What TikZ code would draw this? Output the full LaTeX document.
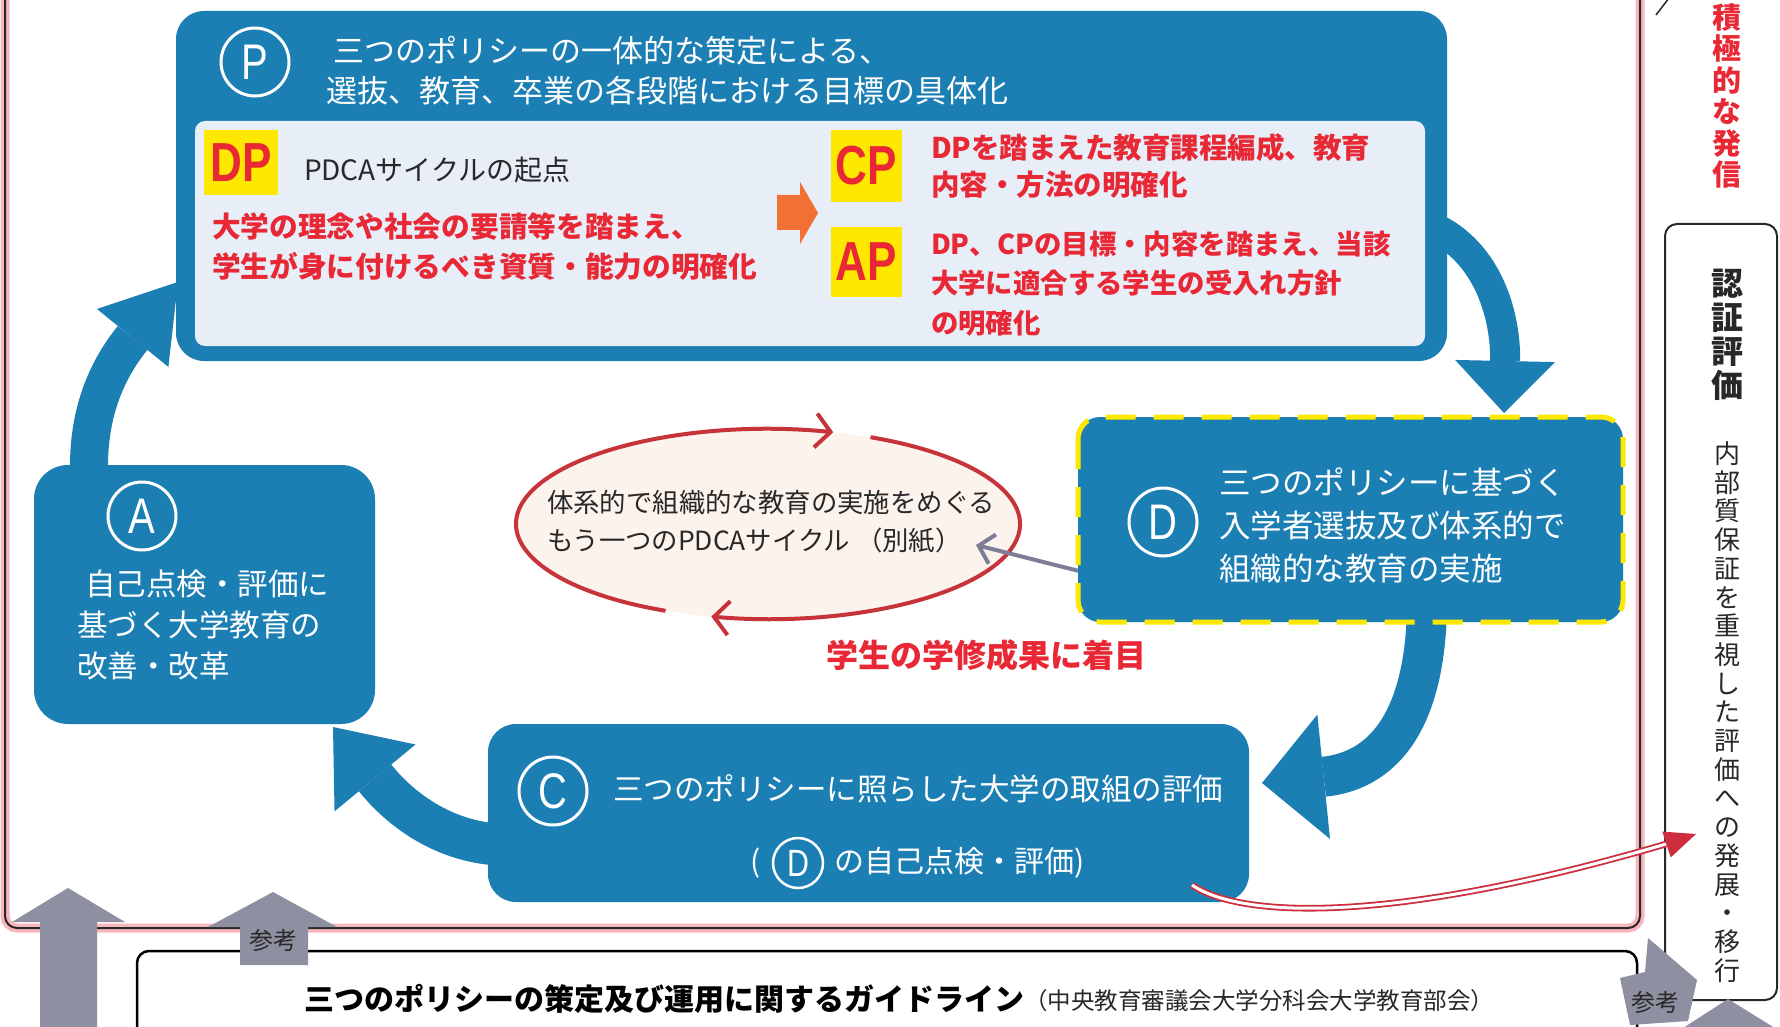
\documentclass[tikz,border=0pt]{standalone}
\usepackage{fontspec}
\setmainfont{Noto Sans CJK JP}
\newfontfamily\narrowf[FakeStretch=0.8]{Liberation Sans}
\usetikzlibrary{arrows.meta,shapes.geometric,calc}
\definecolor{blueC}{RGB}{28,127,180}
\definecolor{lightC}{RGB}{231,238,248}
\definecolor{yellowC}{RGB}{255,232,0}
\definecolor{redT}{RGB}{232,40,52}
\definecolor{orangeC}{RGB}{243,112,52}
\definecolor{grayA}{RGB}{142,143,160}
\definecolor{pinkG}{RGB}{246,182,188}
\definecolor{ellF}{RGB}{252,243,237}
\definecolor{ellR}{RGB}{198,52,58}
\definecolor{textD}{RGB}{40,40,40}
\definecolor{redD}{RGB}{205,45,60}
\definecolor{grayL}{RGB}{125,126,150}
\newcommand\myfs[1]{\fontsize{#1}{#1}\selectfont}
\newcommand\myfsb[2]{\fontsize{#1}{#2}\selectfont}
\begin{document}
\begin{tikzpicture}[x=1pt,y=-1pt,
  txt/.style={inner sep=0pt,outer sep=0pt},
  bluebox/.style={fill=blueC,inner sep=0pt,outer sep=0pt},
  letcirc/.style={circle,draw=white,line width=3pt,inner sep=0pt,minimum size=68pt,text=white,font=\narrowf\myfs{50}},
  flow/.style={draw=blueC},
  ybox/.style={fill=yellowC,inner sep=0pt,outer sep=0pt,text=redT,font=\narrowf\bfseries\myfs{55}},
  garrow/.style={fill=grayA}]
\useasboundingbox (0,0) rectangle (1780,1027);
\fill[white] (0,0) rectangle (1780,1027);

% outer pink frame
\draw[draw=pinkG, line width=9pt, rounded corners=12pt] (5,-40) -- (5,928) -- (1640,928) -- (1640,-40);
\draw[draw=textD, line width=2pt, rounded corners=12pt] (5,-40) -- (5,928) -- (1640,928) -- (1640,-40);

% guideline box
\node[draw=black, line width=2.5pt, rounded corners=12pt, minimum width=1500pt, minimum height=200pt, inner sep=0pt, outer sep=0pt] (G) at (887,1051) {};
\node[txt, anchor=west, text=black, font=\bfseries\myfs{30}] (Gt) at (304,999) {三つのポリシーの策定及び運用に関するガイドライン};
\node[txt, anchor=west, text=textD, font=\myfs{23.5}] (Gs) at (1024,1001) {（中央教育審議会大学分科会大学教育部会）};

% certification box
\node[draw=textD, line width=2pt, rounded corners=12pt, minimum width=112pt, minimum height=776pt, inner sep=0pt, outer sep=0pt] (N) at (1721,612) {};
\node[txt, align=center, text=redT, font=\bfseries\myfsb{29}{31.5}] (sek) at (1727,96) {積\\極\\的\\な\\発\\信};
\node[txt, align=center, text=textD, font=\bfseries\myfsb{32}{34}] (nin) at (1727,335) {認\\証\\評\\価};
\node[txt, align=center, text=textD, font=\myfsb{26}{28.7}] (nai) at (1727,712) {内\\部\\質\\保\\証\\を\\重\\視\\し\\た\\評\\価\\へ\\の\\発\\展\\・\\移\\行};
\draw[textD, line width=1.5pt] (1669,-2) -- (1656,15);

% big blue cycle arrows (drawn below boxes)
\draw[flow, line width=38pt, -{Triangle[length=72pt,width=92pt,line width=0pt]}] (90,490) .. controls (84,420) and (105,372) .. (178,282);
\draw[flow, line width=30pt, -{Triangle[length=52pt,width=100pt,line width=0pt]}] (1420,222) .. controls (1490,245) and (1506,320) .. (1504,413);
\draw[flow, line width=40pt, -{Triangle[length=62pt,width=125pt,line width=0pt]}] (1427,600) .. controls (1427,710) and (1390,770) .. (1262,783);
\draw[flow, line width=42pt, -{Triangle[length=66pt,width=105pt,line width=0pt]}] (510,845) .. controls (430,845) and (385,790) .. (333,727);

% P box
\node[bluebox, rounded corners=28pt, minimum width=1271pt, minimum height=350pt] (P) at (811.5,186) {};
\node[fill=lightC, rounded corners=10pt, minimum width=1230pt, minimum height=225pt, inner sep=0pt, outer sep=0pt] (Pin) at (810,233.5) {};
\node[letcirc] (Pc) at (255,62) {P};
\node[txt, anchor=west, align=left, text=white, font=\myfsb{31}{40}] (Pt) at (326,71) {\hspace{7pt}三つのポリシーの一体的な策定による、\\選抜、教育、卒業の各段階における目標の具体化};

\node[ybox, minimum width=74pt, minimum height=65pt] (DP) at (241,162.5) {DP};
\node[txt, anchor=west, text=textD, font=\myfs{28}] (pdca) at (304,170) {PDCAサイクルの起点};
\node[txt, anchor=west, align=left, text=redT, font=\bfseries\myfsb{28.7}{40}] (DPt) at (212,247) {大学の理念や社会の要請等を踏まえ、\\学生が身に付けるべき資質・能力の明確化};
\fill[orangeC] (777,195) -- (800,195) -- (800,182) -- (818,213) -- (800,244) -- (800,230) -- (777,230) -- cycle;
\node[ybox, minimum width=71pt, minimum height=72pt] (CP) at (866.5,166) {CP};
\node[ybox, minimum width=71pt, minimum height=70pt] (AP) at (866.5,262) {AP};
\node[txt, anchor=west, align=left, text=redT, font=\bfseries\myfsb{28.5}{37}] (CPt) at (931,166.5) {DPを踏まえた教育課程編成、教育\\内容・方法の明確化};
\node[txt, anchor=west, align=left, text=redT, font=\bfseries\myfsb{27.4}{39.5}] (APt) at (931,283.5) {DP、CPの目標・内容を踏まえ、当該\\大学に適合する学生の受入れ方針\\の明確化};

% A box
\node[bluebox, rounded corners=34pt, minimum width=341pt, minimum height=259pt] (A) at (204.5,594.5) {};
\node[letcirc] (Ac) at (142,516) {A};
\node[txt, anchor=west, align=left, text=white, font=\myfsb{30.5}{41}] (At) at (77,625) {\hspace{8pt}自己点検・評価に\\基づく大学教育の\\改善・改革};

% D box
\node[bluebox, rounded corners=22pt, minimum width=545pt, minimum height=205pt] (D) at (1350.5,519.5) {};
\draw[yellowC, line width=5pt, dash pattern=on 30pt off 18pt, rounded corners=22pt] (D.north west) rectangle (D.south east);
\node[letcirc] (Dc) at (1163,522) {D};
\node[txt, anchor=west, align=left, text=white, font=\myfsb{31.5}{43}] (Dt) at (1219,525) {三つのポリシーに基づく\\入学者選抜及び体系的で\\組織的な教育の実施};

% C box
\node[bluebox, rounded corners=28pt, minimum width=761pt, minimum height=178pt] (C) at (868.5,813) {};
\node[letcirc] (Cc) at (553,791) {C};
\node[txt, anchor=west, text=white, font=\myfs{30.5}] (Ct) at (613,789) {三つのポリシーに照らした大学の取組の評価};
\node[txt, anchor=west, text=white, font=\myfs{30}] (Cpl) at (750,863) {(};
\node[letcirc, minimum size=50pt, line width=2.5pt, font=\narrowf\myfs{38}] (Cd) at (798,863) {D};
\node[txt, anchor=west, text=white, font=\myfs{30}] (Cs) at (834,863) {の自己点検・評価)};

% ellipse: the other PDCA cycle
\node[ellipse, fill=ellF, minimum width=504pt, minimum height=190pt, inner sep=0pt, outer sep=0pt] (E) at (768,524) {};
\draw[ellR, line width=4pt, -{Straight Barb[length=15pt,width=34pt]}] (E.center) ++(114:252 and 95) arc[start angle=114, end angle=285, x radius=252, y radius=95];
\draw[ellR, line width=4pt, -{Straight Barb[length=15pt,width=34pt]}] (E.center) ++(294:252 and 95) arc[start angle=294, end angle=463, x radius=252, y radius=95];
\node[txt, anchor=west, align=left, text=textD, font=\myfsb{26.4}{38}] (Et) at (547,522) {体系的で組織的な教育の実施をめぐる\\もう一つのPDCAサイクル （別紙）};
\coordinate (Etip) at (976,545);
\draw[grayL, line width=4pt, -{Straight Barb[length=14pt,width=30pt]}] ($(D.south west)!0.25!(D.north west)$) -- (Etip);

\node[txt, anchor=west, text=redT, font=\bfseries\myfs{32}] (gak) at (826,655) {学生の学修成果に着目};

% red double arrow toward certification
\coordinate (Rs) at (1192,885);
\coordinate (Rh) at (1666,844);
\coordinate (Rt) at (1696,834);
\draw[draw=redD, double=white, double distance=3pt, line width=1.8pt] (Rs) .. controls (1240,918) and (1390,925) .. (Rh);
\fill[redD] (Rt) -- (1670.7,857.4) -- (1662.3,831.6) -- cycle;

% gray reference arrows
\fill[garrow] (68,888) -- (125,922) -- (97,922) -- (97,1030) -- (40,1030) -- (40,922) -- (12,922) -- cycle;
\fill[garrow] (273,892) -- (337,927) -- (308,927) -- (308,965) -- (240,965) -- (240,927) -- (208,927) -- cycle;
\node[txt, text=textD, font=\myfs{24}] (ref1) at (273,940) {参考};
\fill[garrow] (1648,938) -- (1697,980) -- (1688,1021) -- (1630,1025) -- (1620,978) -- (1645,972) -- cycle;
\node[txt, text=textD, font=\myfs{24}] (ref2) at (1655,1002) {参考};
\fill[garrow] (1680,1030) -- (1728,999) -- (1778,1030) -- cycle;
\end{tikzpicture}
\end{document}
